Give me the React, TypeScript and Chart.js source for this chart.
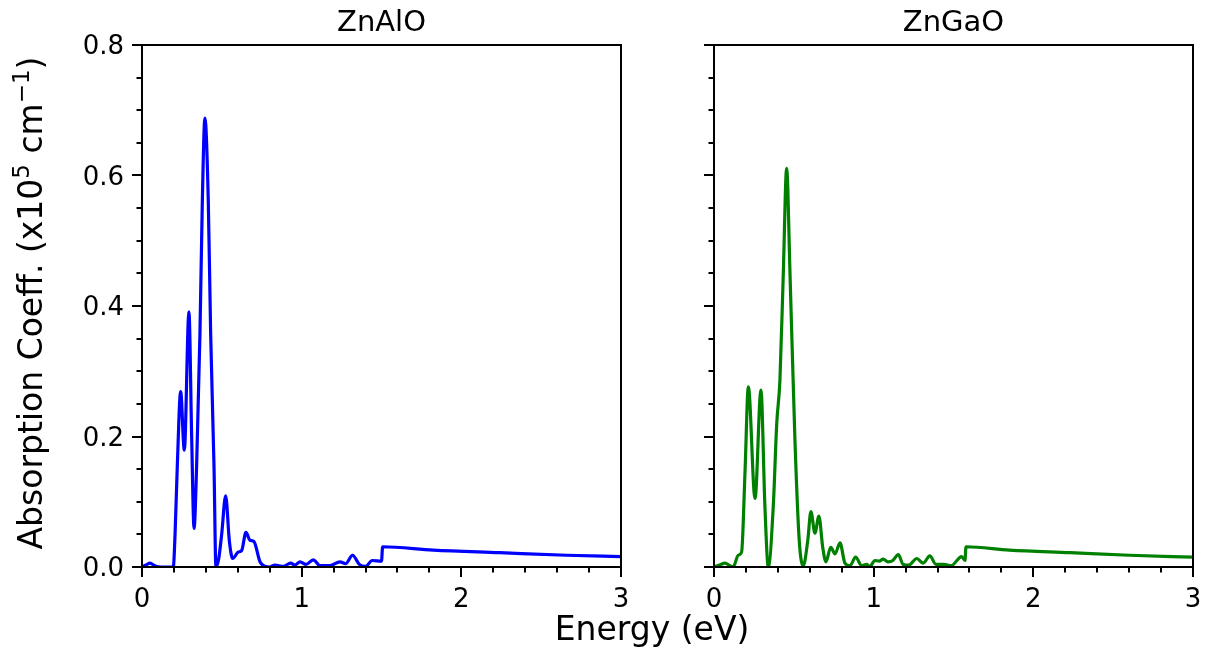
import React, { useEffect, useRef } from "react";
import { Chart, registerables } from "chart.js";

Chart.register(...registerables);

// ---------- data ----------
const energyAl = [
  0, 0.025, 0.05, 0.08, 0.12, 0.196, 0.207, 0.221, 0.242, 0.265,
  0.294, 0.311, 0.326, 0.342, 0.363, 0.378, 0.394, 0.415, 0.43, 0.451,
  0.463, 0.48, 0.499, 0.524, 0.547, 0.568, 0.603, 0.624, 0.651, 0.676,
  0.701, 0.739, 0.77, 0.8, 0.833, 0.885, 0.931, 0.958, 0.99, 1.027,
  1.073, 1.115, 1.177, 1.24, 1.275, 1.319, 1.361, 1.401, 1.442, 1.5,
  1.507, 1.824, 2.24, 2.66, 3.0,
];
const absAl = [
  0, 0.003, 0.006, 0.002, 0, 0, 0.05, 0.154, 0.269, 0.179,
  0.391, 0.2, 0.059, 0.154, 0.358, 0.562, 0.688, 0.562, 0.358, 0.154,
  0, 0.012, 0.05, 0.109, 0.04, 0.013, 0.023, 0.025, 0.053, 0.041,
  0.039, 0.008, 0.001, 0, 0.003, 0.001, 0.006, 0.003, 0.008, 0.004,
  0.011, 0.002, 0.002, 0.008, 0.005, 0.018, 0.004, 0.001, 0.01, 0.009,
  0.031, 0.026, 0.022, 0.018, 0.016,
];

const energyGa = [
  0, 0.035, 0.069, 0.1, 0.12, 0.152, 0.173, 0.194, 0.215, 0.257,
  0.294, 0.319, 0.34, 0.371, 0.393, 0.413, 0.434, 0.455, 0.476, 0.507,
  0.534, 0.559, 0.587, 0.607, 0.632, 0.657, 0.681, 0.701, 0.731, 0.758,
  0.789, 0.82, 0.852, 0.887, 0.925, 0.955, 0.976, 1.008, 1.035, 1.06,
  1.09, 1.12, 1.154, 1.185, 1.22, 1.27, 1.31, 1.352, 1.39, 1.44,
  1.485, 1.551, 1.572, 1.578, 1.85, 2.23, 2.6, 3.0,
];
const absGa = [
  0, 0.003, 0.006, 0.002, 0, 0.018, 0.023, 0.144, 0.276, 0.105,
  0.271, 0.092, 0, 0.092, 0.22, 0.287, 0.45, 0.611, 0.45, 0.194,
  0.04, 0.002, 0.04, 0.085, 0.052, 0.078, 0.03, 0.008, 0.03, 0.02,
  0.037, 0.006, 0.002, 0.015, 0.002, 0.004, 0.001, 0.01, 0.009, 0.012,
  0.008, 0.01, 0.019, 0.004, 0.003, 0.013, 0.006, 0.017, 0.004, 0.004,
  0.002, 0.016, 0.01, 0.031, 0.026, 0.022, 0.018, 0.015,
];

const xTickValues = [0, 1, 2, 3];
const xTickLabels = ["0", "1", "2", "3"];
const yTickValues = [0, 0.2, 0.4, 0.6, 0.8];
const yTickLabels = ["0.0", "0.2", "0.4", "0.6", "0.8"];
const panelTitles = ["ZnAlO", "ZnGaO"];
const seriesColors = ["#0000ff", "#008000"];
const xAxisLabel = "Energy (eV)";

// ---------- layout ----------
const W = 1206;
const H = 652;
const TOP = 45;
const BOTTOM = 567;
const panels = [
  { left: 142, right: 621 },
  { left: 714, right: 1193 },
];
const FONT = '"DejaVu Sans", "Liberation Sans", sans-serif';
const TICK_FONT = 26;
const TITLE_FONT = 29;
const LABEL_FONT = 33;

function drawYLabel(ctx: CanvasRenderingContext2D) {
  const base = `${LABEL_FONT}px ${FONT}`;
  const sup = `${Math.round(LABEL_FONT * 0.7)}px ${FONT}`;
  const parts: { t: string; s: boolean }[] = [
    { t: "Absorption Coeff. (x10", s: false },
    { t: "5", s: true },
    { t: " cm", s: false },
    { t: "\u22121", s: true },
    { t: ")", s: false },
  ];
  let total = 0;
  const widths: number[] = [];
  for (const p of parts) {
    ctx.font = p.s ? sup : base;
    const w = ctx.measureText(p.t).width;
    widths.push(w);
    total += w;
  }
  ctx.save();
  ctx.translate(42, 303);
  ctx.rotate(-Math.PI / 2);
  ctx.fillStyle = "#000";
  ctx.textAlign = "left";
  ctx.textBaseline = "alphabetic";
  let x = -total / 2;
  parts.forEach((p, i) => {
    ctx.font = p.s ? sup : base;
    ctx.fillText(p.t, x, p.s ? -13 : 0);
    x += widths[i];
  });
  ctx.restore();
}

function makePlugin(index: number) {
  return {
    id: "mplDecor" + index,
    afterDraw(chart: any) {
      const ctx: CanvasRenderingContext2D = chart.ctx;
      const { left, right, top, bottom } = chart.chartArea;
      const xs = chart.scales.x;
      const ys = chart.scales.y;
      ctx.save();
      ctx.strokeStyle = "#000";
      ctx.lineWidth = 2;
      ctx.lineCap = "butt";
      // x ticks (major every 1, minor every 0.2)
      for (let i = 0; i <= 15; i++) {
        const px = Math.round(xs.getPixelForValue(i * 0.2));
        const len = i % 5 === 0 ? 10 : 5.5;
        ctx.beginPath();
        ctx.moveTo(px, bottom);
        ctx.lineTo(px, bottom + len);
        ctx.stroke();
      }
      // y ticks (major every 0.2, minor every 0.05)
      for (let i = 0; i <= 16; i++) {
        const py = Math.round(ys.getPixelForValue(i * 0.05));
        const len = i % 4 === 0 ? 10 : 5.5;
        ctx.beginPath();
        ctx.moveTo(left, py);
        ctx.lineTo(left - len, py);
        ctx.stroke();
      }
      // frame
      ctx.strokeRect(left, top, right - left, bottom - top);

      ctx.fillStyle = "#000";
      // x tick labels
      ctx.font = `${TICK_FONT}px ${FONT}`;
      ctx.textAlign = "center";
      ctx.textBaseline = "alphabetic";
      xTickValues.forEach((v, i) => {
        ctx.fillText(xTickLabels[i], xs.getPixelForValue(v), bottom + 40);
      });
      // y tick labels only on the first panel
      if (index === 0) {
        ctx.textAlign = "right";
        yTickValues.forEach((v, i) => {
          ctx.fillText(
            yTickLabels[i],
            left - 18,
            ys.getPixelForValue(v) + TICK_FONT * 0.364
          );
        });
      }
      // title
      ctx.font = `${TITLE_FONT}px ${FONT}`;
      ctx.textAlign = "center";
      ctx.fillText(panelTitles[index], (left + right) / 2, 31);

      if (index === 0) {
        ctx.font = `${LABEL_FONT}px ${FONT}`;
        ctx.textAlign = "center";
        ctx.fillText(xAxisLabel, 652, 640);
        drawYLabel(ctx);
      }
      ctx.restore();
    },
  };
}

function makeConfig(index: number): any {
  const geo = panels[index];
  const xs = index === 0 ? energyAl : energyGa;
  const ys = index === 0 ? absAl : absGa;
  return {
    type: "line",
    data: {
      datasets: [
        {
          data: xs.map((x, i) => ({ x, y: ys[i] })),
          borderColor: seriesColors[index],
          borderWidth: 3.2,
          pointRadius: 0,
          fill: false,
          cubicInterpolationMode: "monotone",
        },
      ],
    },
    options: {
      responsive: false,
      animation: false,
      devicePixelRatio: 1,
      layout: { padding: { left: 0, right: W - geo.right, top: TOP, bottom: 0 } },
      plugins: {
        legend: { display: false },
        tooltip: { enabled: false },
        title: { display: false },
      },
      scales: {
        x: {
          type: "linear",
          min: 0,
          max: 3,
          grid: { display: false },
          border: { display: false },
          ticks: { display: false },
          afterFit: (s: any) => {
            s.height = H - BOTTOM;
          },
        },
        y: {
          type: "linear",
          min: 0,
          max: 0.8,
          grid: { display: false },
          border: { display: false },
          ticks: { display: false },
          afterFit: (s: any) => {
            s.width = geo.left;
          },
        },
      },
    },
    plugins: [makePlugin(index)],
  };
}

export default function App() {
  const ref0 = useRef<HTMLCanvasElement>(null);
  const ref1 = useRef<HTMLCanvasElement>(null);
  useEffect(() => {
    const c0 = new Chart(ref0.current as HTMLCanvasElement, makeConfig(0));
    const c1 = new Chart(ref1.current as HTMLCanvasElement, makeConfig(1));
    return () => {
      c0.destroy();
      c1.destroy();
    };
  }, []);
  const style: React.CSSProperties = {
    position: "absolute",
    left: 0,
    top: 0,
    width: W,
    height: H,
  };
  return (
    <div
      style={{
        position: "fixed",
        left: 0,
        top: 0,
        width: W,
        height: H,
        background: "#fff",
      }}
    >
      <canvas ref={ref0} width={W} height={H} style={style} />
      <canvas ref={ref1} width={W} height={H} style={style} />
    </div>
  );
}
